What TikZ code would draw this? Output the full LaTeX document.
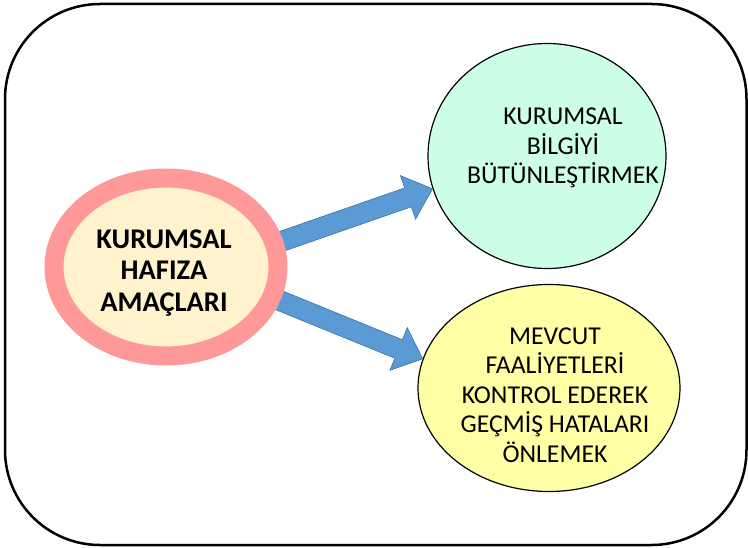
\documentclass[tikz,border=0pt]{standalone}
\usepackage{fontspec}
\setmainfont{Carlito}
\usetikzlibrary{shapes.geometric,calc}

\definecolor{ringpink}{HTML}{FF9999}
\definecolor{creamfill}{HTML}{FFF2CC}
\definecolor{mintfill}{HTML}{CCFFE5}
\definecolor{lemonfill}{HTML}{FFFFA6}
\definecolor{arrowblue}{HTML}{5B9BD5}
\definecolor{arrowedge}{HTML}{41719C}

\tikzset{
  frame/.style={draw=black, line width=2.5pt, rounded corners=95pt},
  goalring/.style={ellipse, draw=ringpink, line width=19pt, fill=creamfill,
    minimum width=224pt, minimum height=178pt, inner sep=0pt},
  aimoval/.style={ellipse, draw=black, line width=1.2pt,
    minimum width=#1, inner sep=0pt},
  bodytext/.style={align=center, inner sep=0pt,
    font=\fontsize{25.7}{29.6}\selectfont},
  headtext/.style={align=center, inner sep=0pt,
    font=\fontsize{28.5}{31.5}\selectfont\bfseries},
  fatarrow/.style={fill=arrowblue, draw=arrowedge, line width=0.6pt, line join=miter},
}

% block arrow from #1 to #2, shaft half width 10, head half width 23, head length 26
\newcommand{\blockarrow}[3]{%
  \coordinate (#3b) at ($(#2)!26pt!(#1)$);
  \filldraw[fatarrow]
    ($(#1)!10pt!90:(#2)$) -- ($(#3b)!10pt!90:(#2)$) -- ($(#3b)!23pt!90:(#2)$)
    -- (#2) -- ($(#3b)!23pt!-90:(#2)$) -- ($(#3b)!10pt!-90:(#2)$)
    -- ($(#1)!10pt!-90:(#2)$) -- cycle;
}

\begin{document}
\begin{tikzpicture}[x=1pt, y=-1pt]
  \useasboundingbox (0,0) rectangle (748,548);
  \draw[frame] (5,4) rectangle (746.5,545);

  % the two aim ovals
  \node[aimoval=238pt, minimum height=225pt, fill=mintfill] (aimA) at (547,156) {};
  \node[aimoval=262pt, minimum height=207pt, fill=lemonfill] (aimB) at (549,388) {};

  % arrows leave from under the ring of the goal oval
  \coordinate (goalc) at (166,267);
  \path (goalc) ++(108,-23) coordinate (tailA);
  \path (goalc) ++(105,30) coordinate (tailB);
  \blockarrow{tailA}{aimA.196}{hA}
  \blockarrow{tailB}{aimB.167}{hB}

  \node[goalring] (goal) at (goalc) {};

  \node[headtext] (goaltext) at ([xshift=-2pt,yshift=-6pt]goal.center)
    {KURUMSAL\\HAFIZA\\AMAÇLARI};
  \node[bodytext] (aimAtext) at ([xshift=16pt,yshift=8pt]aimA.center)
    {KURUMSAL\\BİLGİYİ\\BÜTÜNLEŞTİRMEK};
  \node[bodytext] (aimBtext) at ([xshift=6pt,yshift=-7pt]aimB.center)
    {MEVCUT\\FAALİYETLERİ\\KONTROL EDEREK\\GEÇMİŞ HATALARI\\ÖNLEMEK};
\end{tikzpicture}
\end{document}
